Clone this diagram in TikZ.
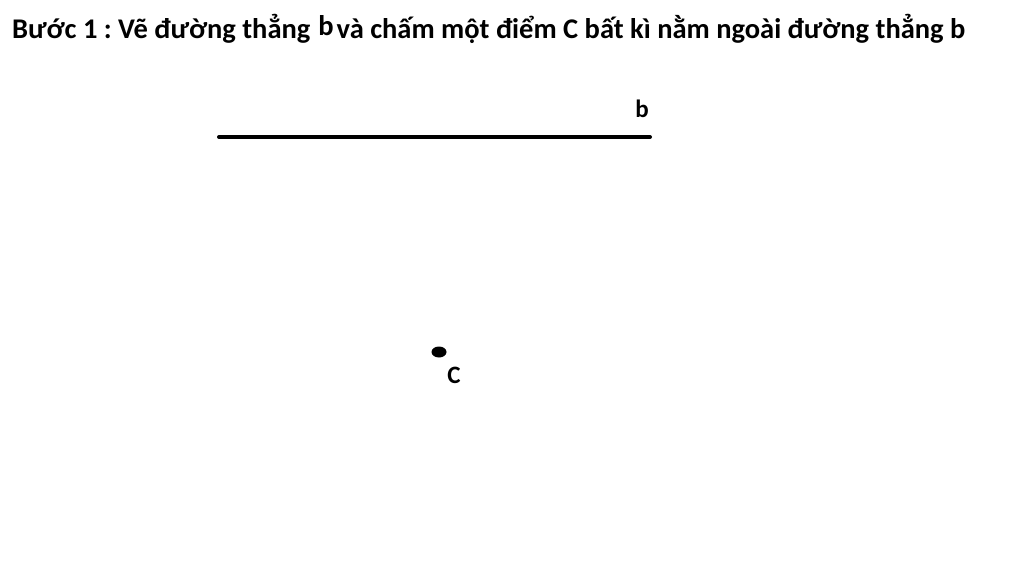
\documentclass[tikz,border=0pt]{standalone}
\usepackage{fontspec}
\setmainfont{Carlito}
\usetikzlibrary{shapes.geometric}
\frenchspacing
\tikzset{
  lbl/.style={font=\bfseries\fontsize{25}{28}\selectfont, inner sep=0pt},
  titlefont/.style={font=\bfseries\fontsize{28.5}{32}\selectfont, inner sep=0pt},
  thickline/.style={line width=4pt, line cap=round},
  pointdot/.style={ellipse, fill=black, minimum width=15pt, minimum height=11pt, inner sep=0pt}
}
\begin{document}
\begin{tikzpicture}[x=1pt,y=-1pt]
\useasboundingbox (0,0) rectangle (1024,560);
\node[titlefont, anchor=base west] (title) at (12,38) {Bước 1 : Vẽ đường thẳng\hspace{8pt}\raisebox{3pt}{b}\hspace{3pt}và chấm một điểm C bất kì nằm ngoài đường thẳng b};
\coordinate (bl) at (219,137);
\coordinate (br) at (650,137);
\draw[thickline] (bl) -- (br);
\node[lbl, anchor=base] (blabel) at (642,117) {b};
\node[pointdot] (C) at (439,352) {};
\node[lbl, anchor=base] (clabel) at (454,383) {C};
\end{tikzpicture}
\end{document}
